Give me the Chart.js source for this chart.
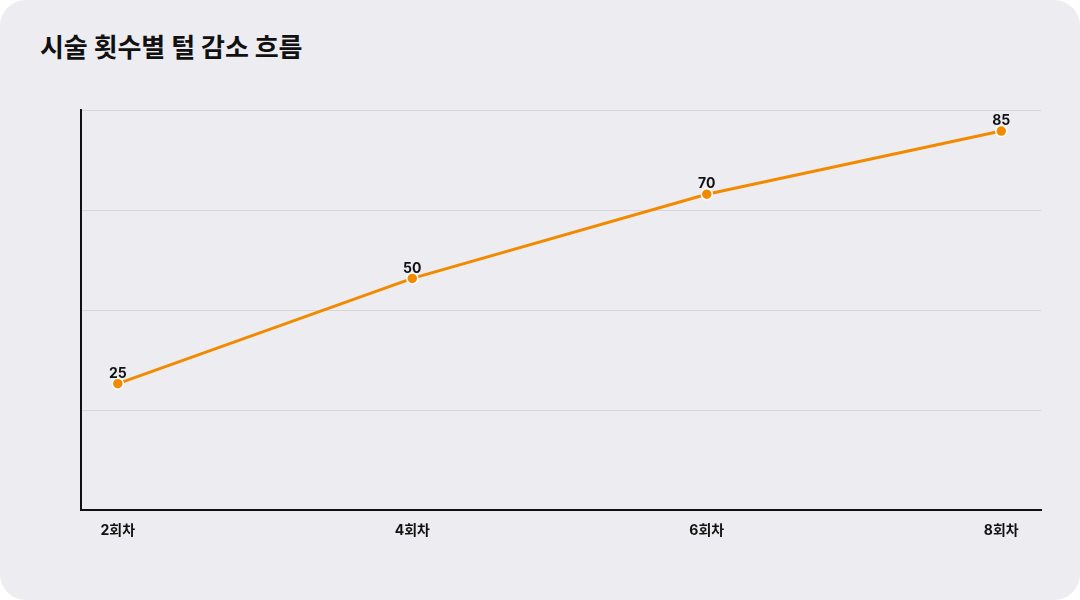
<!DOCTYPE html>
<html lang="ko">
<head>
  <meta charset="UTF-8">
  <title>시술 횟수별 털 감소 흐름</title>
  <script src="https://cdn.jsdelivr.net/npm/chart.js"></script>
  <style>
    html, body { margin: 0; padding: 0; background: #ffffff; }
    .card { position: relative; width: 1080px; height: 600px; background: #EDECF1; border-radius: 26px; overflow: hidden; font-family: Inter, "Noto Sans CJK KR", sans-serif; }
    .card h1 { position: absolute; left: 40px; top: 27px; margin: 0; font-size: 26px; font-weight: 700; color: #111; letter-spacing: -0.1px; }
    #chart { position: absolute; left: 0; top: 0; }
  </style>
</head>
<body>
  <div class="card">
    <h1>시술 횟수별 털 감소 흐름</h1>
    <canvas id="chart" width="1080" height="600"></canvas>
  </div>
  <script>
    const sessions = ['2회차', '4회차', '6회차', '8회차'];
    const reduction = [25, 50, 70, 85];

    const orange = '#F28A00';
    const yMin = -5, yMax = 90;
    const fontFamily = 'Inter, "Noto Sans CJK KR", sans-serif';

    // 점 위에 값 표시
    const valueLabels = {
      id: 'valueLabels',
      afterDatasetsDraw(chart) {
        const ctx = chart.ctx;
        const meta = chart.getDatasetMeta(0);
        ctx.save();
        ctx.font = 'bold 14px ' + fontFamily;
        ctx.fillStyle = '#111';
        ctx.textAlign = 'center';
        ctx.textBaseline = 'bottom';
        meta.data.forEach((pt, i) => {
          ctx.fillText(reduction[i], pt.x, pt.y - 3);
        });
        ctx.restore();
      }
    };

    new Chart(document.getElementById('chart'), {
      type: 'line',
      data: {
        datasets: [{
          data: reduction.map((v, i) => ({ x: i, y: v })),
          borderColor: orange,
          borderWidth: 3,
          pointBackgroundColor: orange,
          pointBorderColor: '#ffffff',
          pointBorderWidth: 1.5,
          pointRadius: 5.5,
          tension: 0
        }]
      },
      options: {
        responsive: false,
        animation: false,
        layout: { padding: { left: 81, top: 110, right: 39, bottom: 50 } },
        plugins: { legend: { display: false }, tooltip: { enabled: false } },
        scales: {
          x: {
            type: 'linear',
            min: -0.125,
            max: 3.135,
            afterBuildTicks: s => { s.ticks = sessions.map((_, i) => ({ value: i })); },
            afterFit: s => { s.height = 40; },
            ticks: {
              callback: v => sessions[v],
              color: '#111',
              font: { family: fontFamily, size: 14, weight: 'bold' },
              padding: 12,
              maxRotation: 0
            },
            grid: { display: false, drawTicks: false },
            border: { color: '#111', width: 2 }
          },
          y: {
            min: yMin,
            max: yMax,
            afterBuildTicks: s => {
              s.ticks = [0, 1, 2, 3, 4].map(i => ({ value: yMin + i * (yMax - yMin) / 4 }));
            },
            afterFit: s => { s.width = 0; },
            ticks: { display: false },
            grid: { color: '#D6D6DC', lineWidth: 1, drawTicks: false },
            border: { color: '#111', width: 2 }
          }
        }
      },
      plugins: [valueLabels]
    });
  </script>
</body>
</html>
